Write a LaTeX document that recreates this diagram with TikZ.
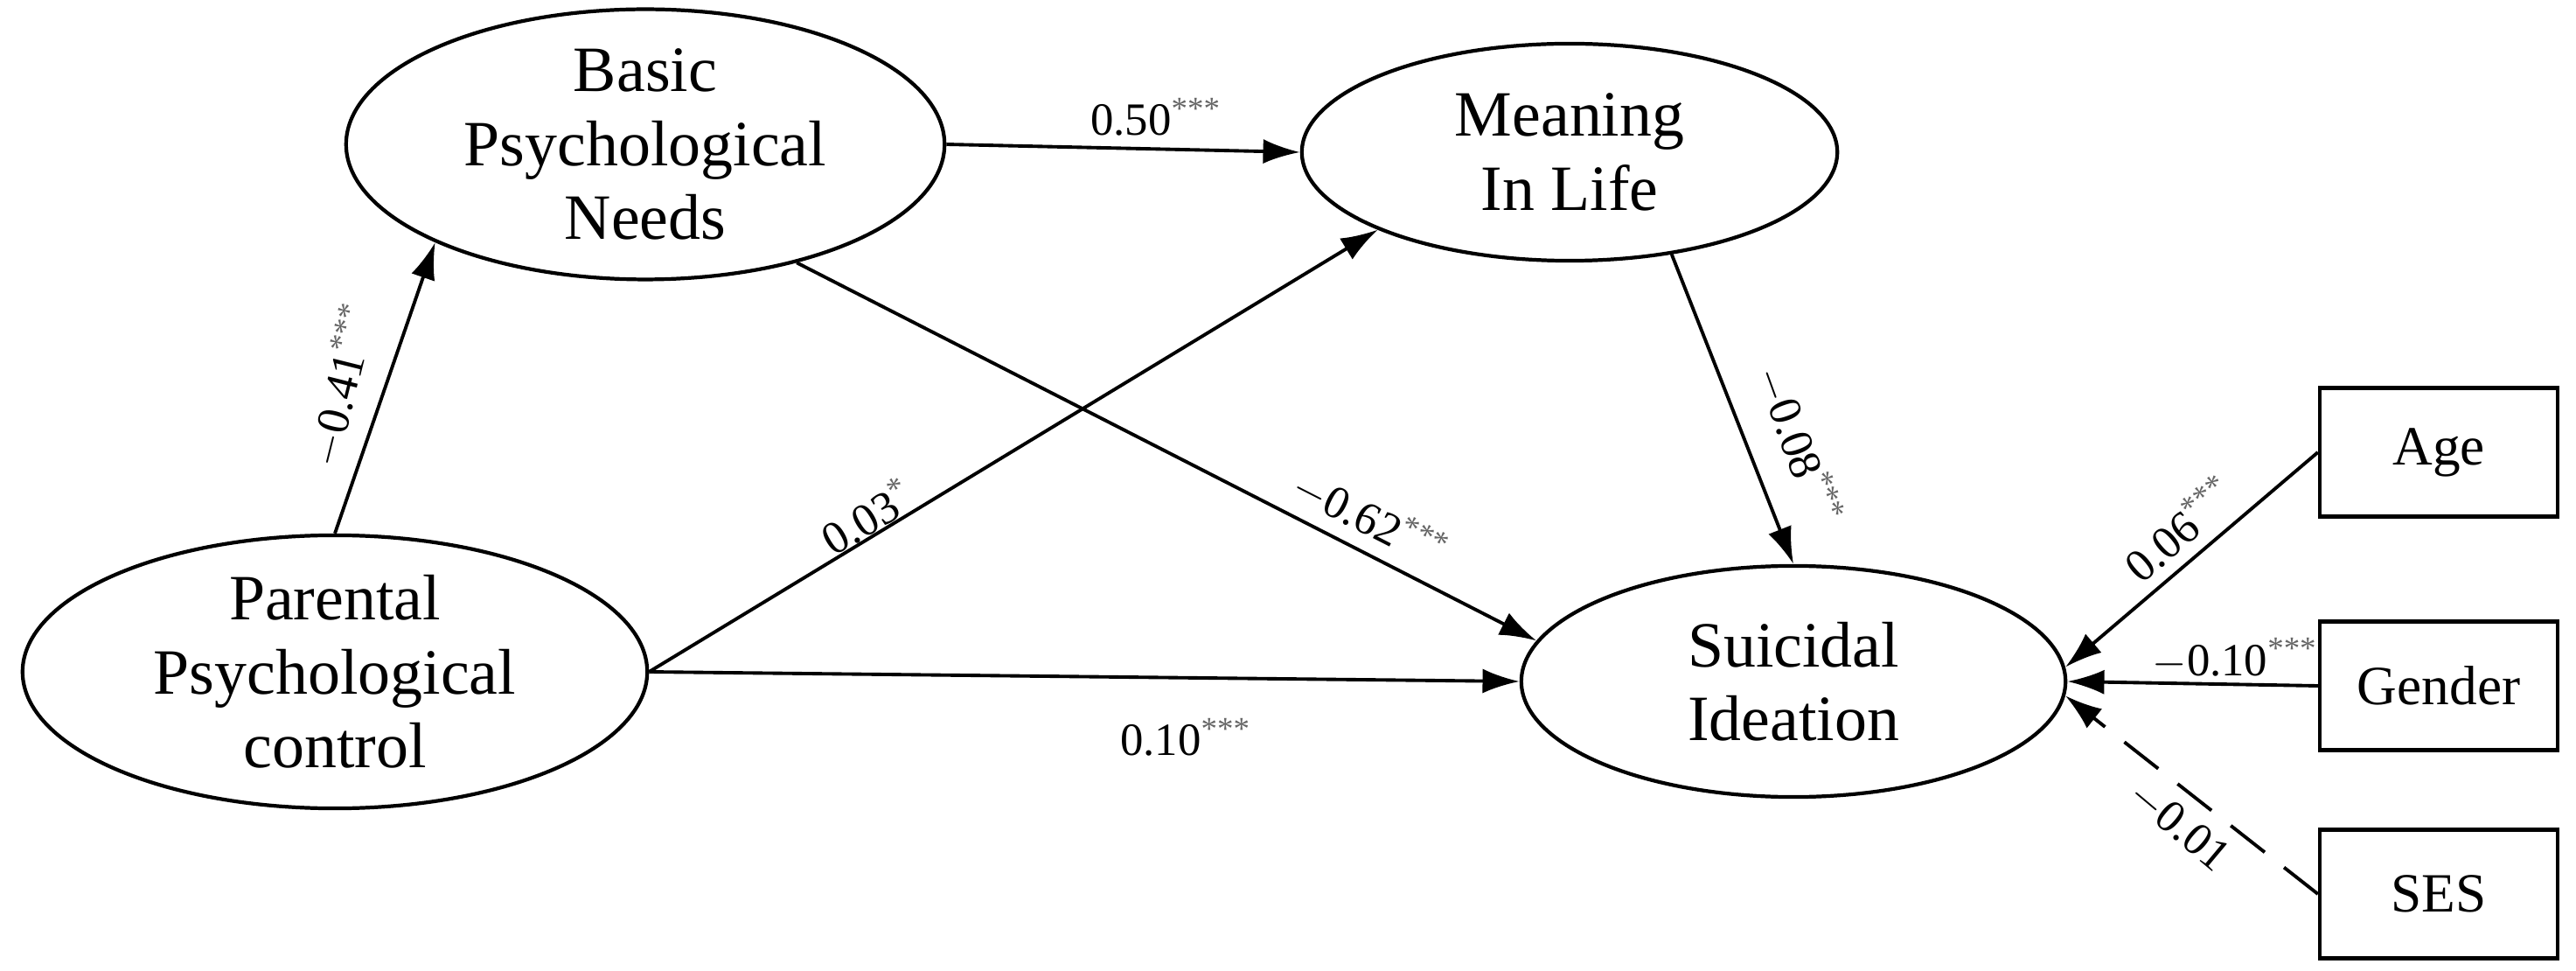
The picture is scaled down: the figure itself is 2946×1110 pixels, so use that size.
\documentclass[tikz,border=0pt]{standalone}
\usepackage{fontspec}
\setmainfont{Liberation Serif}
\usetikzlibrary{shapes.geometric,arrows.meta}
\begin{document}
\begin{tikzpicture}[x=0.01cm,y=-0.01cm,
  lat/.style={ellipse,draw,line width=1.2pt,inner sep=0pt,align=center,font=\fontsize{21}{24}\selectfont},
  obs/.style={rectangle,draw,line width=1.2pt,minimum width=2.72cm,minimum height=1.47cm,inner sep=0pt,font=\fontsize{18}{22}\selectfont},
  path/.style={line width=1.1pt,-{Latex[length=12pt,width=8pt]}},
  lab/.style={font=\fontsize{15}{18}\selectfont,inner sep=1pt}]
\useasboundingbox (0,0) rectangle (2946,1110);
\newcommand{\st}[1]{\textcolor{black!60}{\textsuperscript{#1}}}
\node[lat,minimum width=6.84cm,minimum height=2.80cm] (bpn) at (738,165) {Basic\\Psychological\\Needs};
\node[lat,minimum width=6.12cm,minimum height=2.48cm] (mil) at (1795,174) {Meaning\\In Life};
\node[lat,minimum width=7.14cm,minimum height=2.82cm] (ppc) at (383,768) {Parental\\Psychological\\control};
\node[lat,minimum width=6.22cm,minimum height=2.64cm] (si) at (2051,779) {Suicidal\\Ideation};
\node[obs] (age) at (2789,517) {Age};
\node[obs] (gen) at (2789,784) {Gender};
\node[obs] (ses) at (2789,1022) {SES};
\draw[path] (ppc.90) -- (bpn.205);
\draw[path] (bpn.0) -- (mil.180);
\draw[path] (ppc.0) -- (mil.202);
\draw[path] (bpn.-38) -- (si.171);
\draw[path] (ppc.0) -- (si.180);
\draw[path] (mil.-45) -- (si.90);
\draw[path] (age.west) -- (si.3);
\draw[path] (gen.west) -- (si.0);
\draw[path,dashed,dash pattern=on 14pt off 8pt] (ses.west) -- (si.-3);
\node[lab,rotate=76] (l1) at (390,440) {$-$0.41\st{***}};
\node[lab] (l2) at (1322,134) {0.50\st{***}};
\node[lab,rotate=31] (l3) at (991,590) {0.03\st{*}};
\node[lab,rotate=-27] (l4) at (1567,592) {$-$0.62\st{***}};
\node[lab] (l5) at (1356,843) {0.10\st{***}};
\node[lab,rotate=-70] (l6) at (2058,509) {$-$0.08\st{***}};
\node[lab,rotate=41] (l7) at (2492,604) {0.06\st{***}};
\node[lab] (l8) at (2556,753) {$-$0.10\st{***}};
\node[lab,rotate=-40] (l9) at (2492,944) {$-$0.01};
\end{tikzpicture}
\end{document}
